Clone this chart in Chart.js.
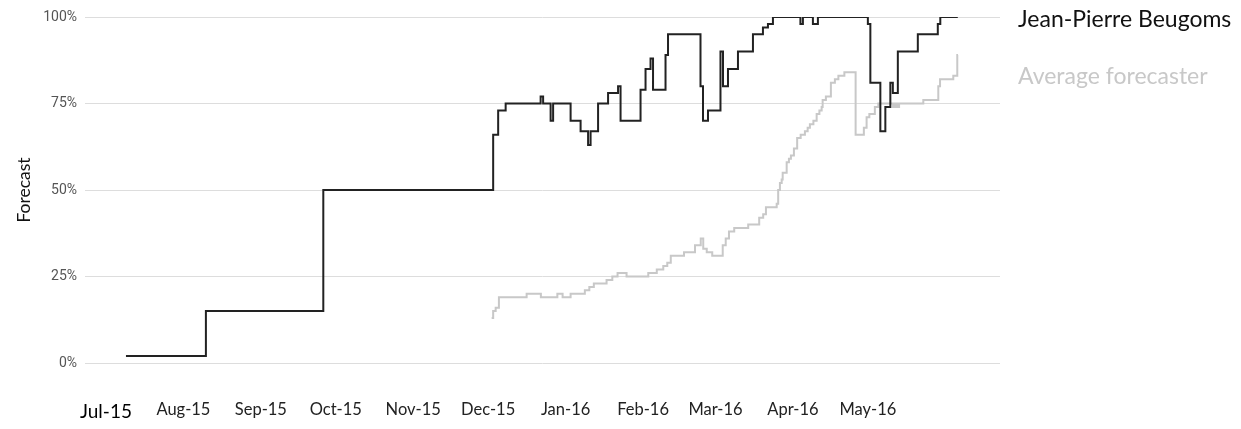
<!DOCTYPE html>
<html>
<head>
<meta charset="utf-8">
<script src="https://cdn.jsdelivr.net/npm/chart.js@4"></script>
<style>
  body { margin: 0; background: #fff; }
  #wrap { position: relative; width: 1241px; height: 429px; }
  .legend { position: absolute; left: 1018px; font-family: Lato, sans-serif; font-size: 23px; white-space: nowrap; line-height: 28px; }
</style>
</head>
<body>
<div id="wrap">
  <canvas id="forecastChart" width="1241" height="429"></canvas>
  <div class="legend" id="leg0" style="top:4px;color:#111"></div>
  <div class="legend" id="leg1" style="top:61px;color:#c8c8c8"></div>
</div>
<script>
// days counted from 1 Jul 2015
const monthStarts = [0, 31, 62, 92, 123, 153, 184, 215, 244, 275, 305];
const monthLabels = ['Jul-15', 'Aug-15', 'Sep-15', 'Oct-15', 'Nov-15', 'Dec-15', 'Jan-16', 'Feb-16', 'Mar-16', 'Apr-16', 'May-16'];
const seriesNames = ['Jean-Pierre Beugoms', 'Average forecaster'];

const beugomsDays = [8, 40, 87, 155, 157, 160, 174, 175, 178, 179, 186, 190, 193, 194, 197, 201, 205, 206, 214, 216,
    218, 219, 224, 225, 238, 239, 241, 246, 247, 249, 253, 259, 263, 265, 267, 278, 279, 283, 285, 305,
    306, 310, 312, 314, 315, 317, 325, 333, 334, 341];
const beugomsValues = [2, 15, 50, 66, 73, 75, 77, 75, 70, 75, 70, 67, 63, 67, 75, 78, 80, 70, 79, 85,
    88, 79, 89, 95, 80, 70, 73, 90, 80, 85, 90, 95, 97, 98, 100, 98, 100, 98, 100, 98,
    81, 67, 74, 81, 78, 90, 95, 98, 100, 100];

const crowdDays = [154.4, 155.0, 156.0, 157.3, 168.4, 174.1, 180.7, 182.8, 186.0, 191.7, 193.5, 195.3, 200.4, 202.7, 204.8,
    208.4, 217.1, 220.5, 223.1, 224.7, 226.1, 231.4, 235.8, 238.1, 239.1, 240.5, 242.7, 246.9, 248.1, 249.4,
    251.5, 257.1, 261.5, 263.1, 264.2, 268.5, 269.1, 269.8, 270.5, 270.9, 272.5, 273.4, 274.2, 275.4, 276.7,
    278.1, 279.8, 280.9, 281.8, 283.2, 284.5, 285.6, 286.5, 286.9, 288.2, 290.2, 291.8, 293.2, 295.6, 300.1,
    303.4, 304.5, 305.6, 307.8, 309.2, 315.1, 315.9, 316.7, 317.5, 327.2, 333.2, 333.9, 339.2, 340.8, 341.1];
const crowdValues = [13, 15, 16, 19, 20, 19, 20, 19, 20, 21, 22, 23, 24, 25, 26,
    25, 26, 27, 28, 29, 31, 32, 34, 36, 33, 32, 31, 34, 36, 38,
    39, 40, 42, 43, 45, 46, 50, 52, 53, 55, 58, 59, 60, 62, 65,
    66, 67, 68, 69, 70, 72, 73, 74, 76, 77, 81, 82, 83, 84, 66,
    68, 71, 72, 74, 75, 74, 75, 74, 75, 76, 80, 82, 83, 89, 89];

const toPoints = (xs, ys) => xs.map((x, i) => ({ x: x, y: ys[i] }));

document.getElementById('leg0').textContent = seriesNames[0];
document.getElementById('leg1').textContent = seriesNames[1];

const ctx = document.getElementById('forecastChart').getContext('2d');
new Chart(ctx, {
    type: 'line',
    data: {
        datasets: [{
            label: seriesNames[0],
            data: toPoints(beugomsDays, beugomsValues),
            borderColor: '#222',
            borderWidth: 2,
            stepped: true,
            pointRadius: 0
        }, {
            label: seriesNames[1],
            data: toPoints(crowdDays, crowdValues),
            borderColor: '#c8c8c8',
            borderWidth: 2,
            stepped: true,
            pointRadius: 0
        }]
    },
    options: {
        responsive: false,
        animation: false,
        layout: { padding: { left: 10, right: 241, top: 17, bottom: 6 } },
        plugins: {
            legend: { display: false },
            tooltip: { enabled: false }
        },
        scales: {
            x: {
                type: 'linear',
                min: -8.4,
                max: 357.9,
                grid: { display: false, drawTicks: false },
                border: { display: false },
                afterBuildTicks: (scale) => {
                    scale.ticks = monthStarts.map(v => ({ value: v }));
                },
                afterFit: (scale) => { scale.height = 60; },
                ticks: {
                    autoSkip: false,
                    maxRotation: 0,
                    padding: 37,
                    callback: (value, index) => monthLabels[index],
                    color: (c) => c.index === 0 ? '#000' : '#222',
                    font: (c) => c.index === 0
                        ? { family: 'Lato', size: 19 }
                        : { family: 'Lato', size: 16.5 }
                }
            },
            y: {
                min: 0,
                max: 100,
                afterFit: (scale) => { scale.width = 75; },
                grid: { color: '#dddddd', drawTicks: false },
                border: { display: false },
                title: {
                    display: true,
                    text: 'Forecast',
                    color: '#111',
                    font: { family: 'Lato', size: 17.5 }
                },
                ticks: {
                    stepSize: 25,
                    padding: 8,
                    color: '#555',
                    font: { family: 'Roboto', size: 14 },
                    callback: (v) => v + '%'
                }
            }
        }
    }
});
</script>
</body>
</html>
